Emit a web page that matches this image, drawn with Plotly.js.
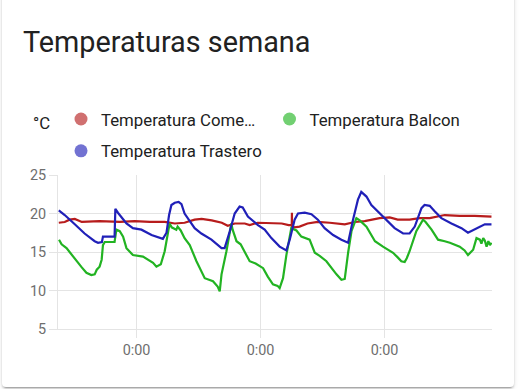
<!DOCTYPE html>
<html>
<head>
<meta charset="utf-8">
<script src="https://cdn.plot.ly/plotly-3.0.1.min.js"></script>
<style>
  html, body { margin:0; padding:0; background:#ffffff; width:519px; height:389px; overflow:hidden; }
  #card { position:absolute; left:2px; top:-10px; width:512px; height:397px; background:#fff; border-radius:4px;
          box-shadow: 0 2px 2px 0 rgba(0,0,0,.14), 0 1px 5px 0 rgba(0,0,0,.12), 0 3px 1px -2px rgba(0,0,0,.2); }
  #chart { position:absolute; left:0; top:0; width:519px; height:389px; }
</style>
</head>
<body>
<div id="card"></div>
<div id="chart"></div>
<script>
// Series names
const names = ["Temperatura Come…", "Temperatura Balcon", "Temperatura Trastero"];
// Start of the week window (UTC) and hours since start for each reading
const startUTC = Date.UTC(2022, 11, 31, 17, 36);
const spanHours = 168;

// Temperatura Comedor (red)
const redHours = [0.3,2.6,4.5,6.5,9.2,16.1,23.9,29.7,35.5,41.3,45.2,49.0,52.9,55.6,59.5,63.4,65.7,68.4,72.3,74.2,77.3,82.7,86.6,89.3,90.5,90.55,90.6,91.6,93.5,96.6,100.5,105.2,111.0,114.9,118.7,124.5,128.4,131.5,136.1,140.0,143.9,149.7,155.5,161.3,165.2,167.8];
const redTemps = [18.8,18.9,19.2,19.3,18.9,19.0,18.9,19.0,18.9,18.9,18.7,18.8,19.2,19.3,19.1,18.8,18.4,18.7,18.7,18.5,18.8,18.7,18.7,18.5,18.5,20.1,18.3,18.2,18.3,18.7,18.9,18.8,18.6,18.9,19.0,19.4,19.5,19.2,19.2,19.4,19.4,19.8,19.7,19.7,19.6,19.6];

// Temperatura Balcon (green)
const greenHours = [0.4,1.4,3.3,5.3,7.1,9.2,11.0,12.9,14.2,15.0,16.1,16.9,17.4,18.1,21.9,22.6,23.9,25.2,26.5,29.0,32.9,35.5,36.8,38.1,39.8,41.3,42.6,43.2,44.0,45.8,46.3,47.5,49.0,51.0,53.6,56.8,60.0,61.8,62.6,63.3,65.2,67.1,67.6,69.1,70.7,72.3,74.2,76.5,79.4,81.2,83.2,85.0,85.8,87.1,88.4,90.3,92.3,94.2,96.3,97.4,99.4,101.3,103.9,105.6,107.8,109.7,111.0,112.3,113.6,115.5,116.8,119.4,120.7,122.7,125.8,129.7,131.5,132.9,134.2,135.0,136.1,138.7,141.3,142.3,144.6,147.1,149.7,151.7,155.5,157.4,158.7,160.7,162.0,163.3,163.9,164.6,165.2,165.9,166.6,167.2,167.8];
const greenTemps = [16.6,16.0,15.5,14.6,13.8,13.0,12.3,12.0,12.1,12.7,13.1,14.0,15.9,16.3,16.3,17.9,17.7,17.0,15.5,14.6,14.4,13.9,13.6,13.1,13.4,15.1,17.4,18.7,18.2,17.9,18.3,17.8,16.8,15.9,13.8,11.6,11.2,10.5,9.9,12.1,15.1,18.7,17.9,16.4,16.0,15.0,13.8,13.5,12.9,11.8,10.8,10.6,10.3,11.6,14.6,18.1,17.8,17.0,16.8,16.6,14.9,14.5,13.8,13.0,12.1,11.4,11.5,14.9,17.7,19.4,19.1,18.3,17.5,16.4,15.7,14.9,14.3,13.8,13.7,14.2,15.1,17.7,19.2,18.9,17.9,16.6,16.4,16.2,15.7,15.2,14.6,15.3,16.8,16.6,16.1,16.8,16.5,15.7,16.4,15.9,16.2];

// Temperatura Trastero (blue)
const blueHours = [0.3,2.6,6.5,10.3,14.2,15.5,17.0,17.4,21.9,22.2,23.2,24.7,26.5,29.0,32.3,36.2,40.6,42.0,43.0,43.9,45.2,46.7,47.8,49.0,51.0,52.9,55.5,59.4,63.3,64.5,66.5,68.4,70.3,71.5,73.5,77.4,80.0,82.6,85.8,88.4,89.7,91.6,92.9,95.5,98.1,100.6,103.2,106.5,109.7,112.3,114.2,116.1,117.4,119.4,121.3,123.9,126.5,128.4,130.3,133.6,136.1,138.1,140.7,141.9,143.9,145.8,148.4,152.3,156.2,158.7,161.3,163.9,165.2,167.8];
const blueTemps = [20.4,19.8,18.6,17.4,16.4,16.2,16.3,17.0,17.0,20.6,20.1,19.4,18.7,18.1,17.9,17.2,16.7,17.5,19.8,21.1,21.4,21.5,21.2,20.0,19.0,18.1,17.4,16.6,15.5,15.5,17.7,20.0,20.9,20.8,19.6,18.5,17.9,16.8,15.7,15.2,16.6,19.2,20.0,20.1,19.9,19.2,18.1,17.2,16.6,16.2,19.2,21.8,22.8,22.2,21.1,20.2,19.4,18.7,18.1,17.4,17.4,18.3,20.7,21.1,21.0,20.3,19.4,18.7,18.1,17.5,17.9,18.3,18.6,18.6];

const yTicks = [5, 10, 15, 20, 25];

const lineColors = ["#b71c1c", "#22b322", "#2020b8"];
const dotColors = ["#d07070", "#72d072", "#7272d2"];

const toTime = hs => hs.map(h => startUTC + h * 3600000);

const FONT = "Roboto, 'Noto Sans', sans-serif";
const series = [[redHours, redTemps], [greenHours, greenTemps], [blueHours, blueTemps]];
const traces = [];
series.forEach((s, i) => {
  traces.push({
    x: toTime(s[0]), y: s[1], type: "scatter", mode: "lines",
    line: { color: lineColors[i], width: 2.2 }, showlegend: false, hoverinfo: "skip"
  });
});
// Legend entries (circle markers)
series.forEach((s, i) => {
  traces.push({
    x: [null], y: [null], type: "scatter", mode: "markers", name: names[i],
    marker: { color: dotColors[i], size: 13, symbol: "circle" },
    legend: i === 2 ? "legend2" : "legend"
  });
});

const legendCommon = {
  orientation: "h", xref: "container", yref: "container", xanchor: "left", yanchor: "top",
  font: { family: FONT, size: 16.8, color: "#212121" }, bgcolor: "rgba(0,0,0,0)",
  entrywidth: 163.5, itemclick: false, itemdoubleclick: false
};

const layout = {
  width: 519, height: 389,
  paper_bgcolor: "rgba(0,0,0,0)", plot_bgcolor: "rgba(0,0,0,0)",
  margin: { l: 58.3, r: 27.3, t: 175, b: 59.5 },
  font: { family: FONT },
  title: {
    text: "Temperaturas semana", xref: "container", yref: "container",
    x: 23 / 519, xanchor: "left", y: 1 - 41.9 / 389, yanchor: "middle",
    font: { family: FONT, size: 28.8, color: "#212121" }
  },
  showlegend: true,
  legend: Object.assign({}, legendCommon, { x: 61 / 519, y: 1 - 101.6 / 389 }),
  legend2: Object.assign({}, legendCommon, { x: 61 / 519, y: 1 - 133.4 / 389 }),
  xaxis: {
    type: "date", range: [startUTC, startUTC + spanHours * 3600000],
    tick0: "2023-01-02", dtick: 2 * 86400000, tickformat: "%-H:%M",
    showgrid: true, gridcolor: "#e4e4e4", gridwidth: 1,
    ticks: "outside", ticklen: 8, tickcolor: "#e4e4e4",
    showline: true, linecolor: "#e4e4e4", linewidth: 1,
    zeroline: false, tickfont: { family: FONT, size: 14.4, color: "#6e6e6e" }, fixedrange: true
  },
  yaxis: {
    range: [5, 25], tickvals: yTicks, ticktext: yTicks.map(String),
    showgrid: true, gridcolor: "#e4e4e4", gridwidth: 1,
    ticks: "outside", ticklen: 8, tickcolor: "#e4e4e4",
    showline: true, linecolor: "#e4e4e4", linewidth: 1,
    zeroline: false, tickfont: { family: FONT, size: 14.4, color: "#6e6e6e" }, fixedrange: true
  },
  annotations: [{
    text: "°C", xref: "paper", yref: "paper", x: (31 - 58.3) / 433.4, y: (329.5 - 122.5) / 154.5,
    xanchor: "left", yanchor: "middle", showarrow: false,
    font: { family: FONT, size: 16.8, color: "#212121" }
  }]
};

Plotly.newPlot("chart", traces, layout, { staticPlot: true, displayModeBar: false });
</script>
</body>
</html>
